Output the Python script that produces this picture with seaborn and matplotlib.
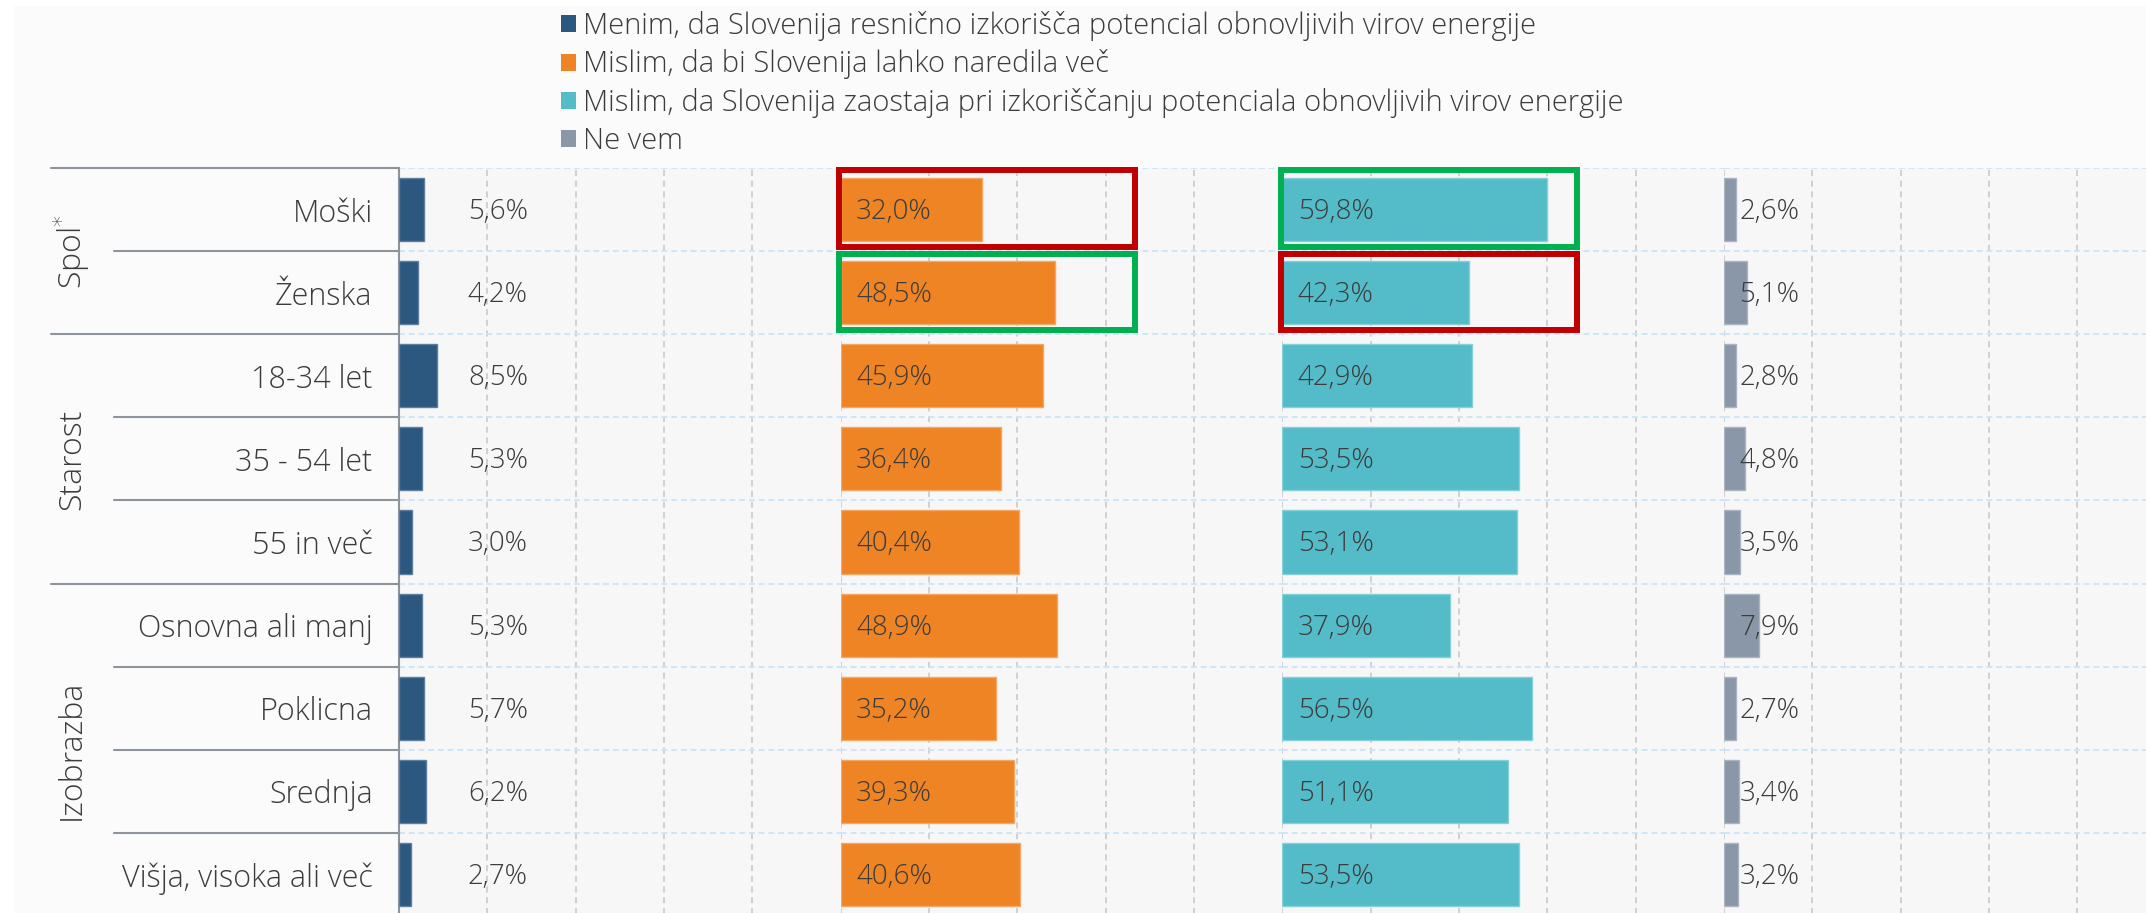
import numpy as np
import matplotlib
matplotlib.use('Agg')
import matplotlib.pyplot as plt
import matplotlib.transforms as mtransforms
from matplotlib.patches import Rectangle, Patch
import seaborn as sns

# data
categories = ['Moški', 'Ženska', '18-34 let', '35 - 54 let', '55 in več',
              'Osnovna ali manj', 'Poklicna', 'Srednja', 'Višja, visoka ali več']
groups = ['Spol$^{*}$', 'Starost', 'Izobrazba']
group_sizes = [2, 3, 4]

izkorisca = [5.6, 4.2, 8.5, 5.3, 3.0, 5.3, 5.7, 6.2, 2.7]
lahko_vec = [32.0, 48.5, 45.9, 36.4, 40.4, 48.9, 35.2, 39.3, 40.6]
zaostaja = [59.8, 42.3, 42.9, 53.5, 53.1, 37.9, 56.5, 51.1, 53.5]
ne_vem = [2.6, 5.1, 2.8, 4.8, 3.5, 7.9, 2.7, 3.4, 3.2]

series_names = ['Menim, da Slovenija resnično izkorišča potencial obnovljivih virov energije',
                'Mislim, da bi Slovenija lahko naredila več',
                'Mislim, da Slovenija zaostaja pri izkoriščanju potenciala obnovljivih virov energije',
                'Ne vem']
series = [izkorisca, lahko_vec, zaostaja, ne_vem]
colors = ['#2c5880', '#ee8424', '#54bbc9', '#8a97a8']
edges = ['#5d7fa0', '#f4a766', '#86d0da', '#aab4c2']

# highlighted cells: (series index, row index, colour)
highlights = [(1, 0, '#c00000'), (1, 1, '#00b050'),
              (2, 0, '#00b050'), (2, 1, '#c00000')]

sns.set_style('white')
plt.rcParams['font.family'] = ['Open Sans', 'DejaVu Sans']
plt.rcParams['font.weight'] = 'light'
txt = '#3c3c3c'

W, H = 2146, 913
fig = plt.figure(figsize=(W / 100, H / 100), dpi=100)
fig.patch.set_facecolor('white')
fig.add_artist(Rectangle((14 / W, 0), 1, 1 - 6 / H, transform=fig.transFigure,
                         facecolor='#fbfbfb', edgecolor='none', zorder=-5))

x0 = 399
panel = 441.7
top, bottom = 168, 916
axes = []
for i in range(4):
    ax = fig.add_axes([(x0 + i * panel) / W, (H - bottom) / H,
                       panel / W, (bottom - top) / H])
    ax.set_facecolor('#f7f7f7')
    sns.barplot(x=series[i], y=categories, ax=ax, color=colors[i], saturation=1,
                width=0.76, edgecolor=edges[i], linewidth=1, zorder=3)
    ax.set_xlim(0, 100)
    ax.set_ylim(len(categories) - 0.5, -0.5)
    ax.set_xticks([0, 20, 40, 60, 80])
    ax.set_yticks(np.arange(len(categories) + 1) - 0.5, minor=True)
    ax.grid(axis='x', which='major', color='#c6c6c6', linestyle=(0, (4, 3)), linewidth=1.1)
    ax.grid(axis='y', which='minor', color='#cde6f7', linestyle=(0, (3, 2)), linewidth=1.4)
    ax.grid(axis='y', which='major', visible=False)
    ax.set_axisbelow(True)
    ax.tick_params(axis='both', which='both', length=0, labelbottom=False)
    ax.set_xlabel('')
    ax.set_ylabel('')
    for s in ['top', 'right', 'bottom', 'left']:
        ax.spines[s].set_visible(False)
    lx = 15.6 if i == 0 else 3.5
    for r, v in enumerate(series[i]):
        ax.text(lx, r + 0.03, f'{v:.1f}%'.replace('.', ','), ha='left', va='center',
                fontsize=20, color=txt, zorder=5)
    if i > 0:
        ax.tick_params(axis='y', labelleft=False)
    axes.append(ax)

ax0 = axes[0]
ax0.spines['left'].set_visible(True)
ax0.spines['left'].set_color('#8e949b')
ax0.spines['left'].set_linewidth(1.5)
ax0.tick_params(axis='y', pad=19, labelsize=22, labelcolor=txt)

# table lines and group labels on the left
tr = mtransforms.blended_transform_factory(fig.transFigure, ax0.transData)
starts = np.cumsum([0] + group_sizes)
for b in range(len(categories)):
    y = b - 0.5
    xs = 51 if b in starts else 114
    ax0.plot([xs / W, x0 / W], [y, y], transform=tr, color='#8e949b',
             linewidth=1.5, clip_on=False, zorder=6)
for g, name in enumerate(groups):
    yc = (starts[g] + starts[g + 1] - 1) / 2
    ax0.text(72 / W, yc, name, transform=tr, rotation=90, ha='center', va='center',
             fontsize=23, color=txt)

# highlight boxes
for si, r, c in highlights:
    axes[si].add_patch(Rectangle((-0.3, r - 0.47), 67.0, 0.92, fill=False,
                                 edgecolor=c, linewidth=4.3, clip_on=False, zorder=7))

handles = [Patch(facecolor=c, edgecolor='none') for c in colors]
fig.legend(handles, series_names, loc='upper left', bbox_to_anchor=(561 / W, 1 - 11 / H),
           frameon=False, fontsize=21, labelcolor=txt, handlelength=0.52,
           handleheight=0.52, handletextpad=0.25, labelspacing=0.29, borderpad=0,
           borderaxespad=0)

fig.savefig('out.png', dpi=100, facecolor=fig.get_facecolor())
